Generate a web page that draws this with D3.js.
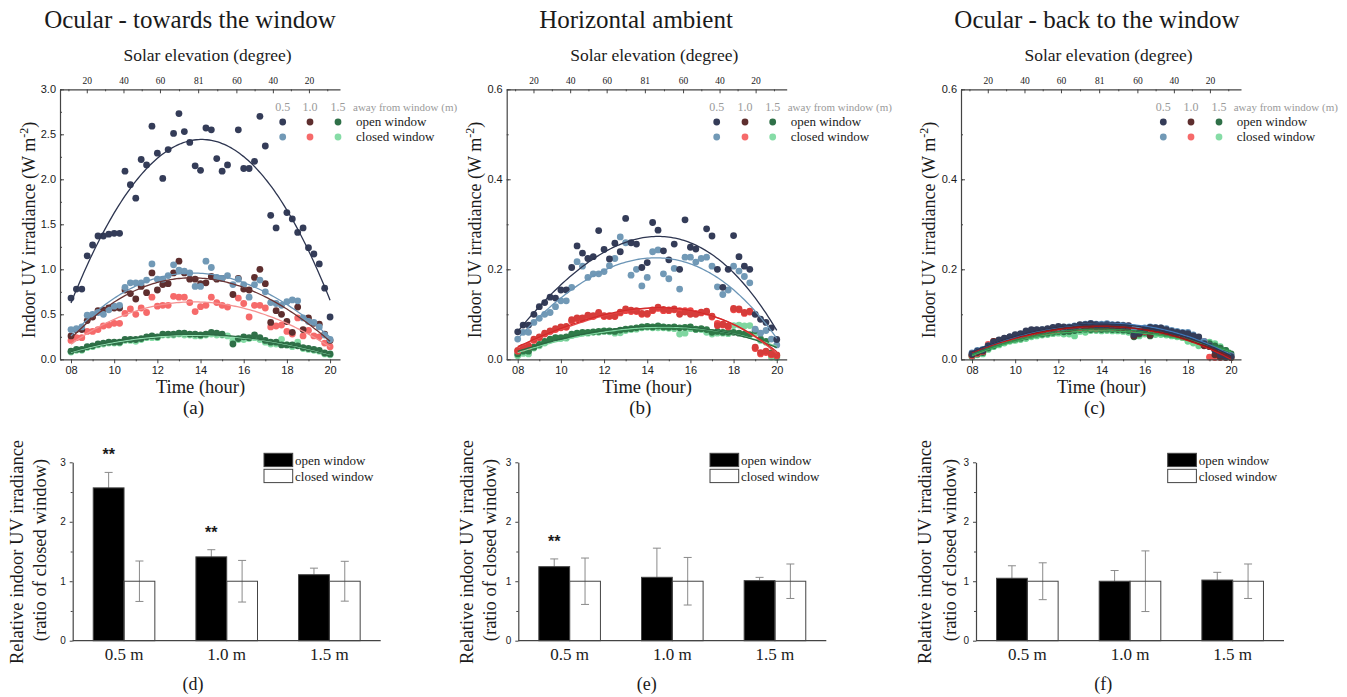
<!DOCTYPE html>
<html>
<head>
<meta charset="utf-8">
<script src="https://cdn.jsdelivr.net/npm/d3@7"></script>
<style>
  body { margin: 0; background: #fff; }
  text { font-family: "Liberation Serif", "Times New Roman", serif; fill: #1a1a1a; }
  .sans text, text.sans { font-family: "Liberation Sans", Arial, sans-serif; }
</style>
</head>
<body>
<svg id="chart" width="1347" height="697"></svg>
<script>
// sampling times (hour of day), every 15 min
var hours = [8,8.25,8.5,8.75,9,9.25,9.5,9.75,10,10.25,10.5,10.75,11,11.25,11.5,11.75,12,12.25,12.5,12.75,
  13,13.25,13.5,13.75,14,14.25,14.5,14.75,15,15.25,15.5,15.75,16,16.25,16.5,16.75,17,17.25,17.5,17.75,
  18,18.25,18.5,18.75,19,19.25,19.5,19.75,20];
var distances = ['0.5', '1.0', '1.5'];
var solarTickHours = [8.73, 10.43, 12.12, 13.89, 15.66, 17.35, 19.02];
var solarTickLabels = ['20', '40', '60', '81', '60', '40', '20'];

// (a) ocular - towards the window
var aOpen05 = [0.68,0.78,0.78,1.15,1.27,1.37,1.37,1.39,1.40,1.40,2.09,1.94,
  1.79,2.22,2.16,2.59,2.29,2.01,2.33,2.51,2.73,2.53,2.41,2.15,
  2.10,2.57,2.55,2.23,2.09,2.16,null,2.55,2.12,2.12,2.20,2.70,
  2.37,1.60,1.46,null,1.63,1.56,1.41,1.46,1.24,1.17,1.06,0.79,0.47];
var aClosed05 = [0.33,0.34,0.36,0.49,0.50,0.52,0.50,0.55,0.59,0.60,0.80,0.85,
  0.85,0.85,0.88,1.06,0.89,0.89,0.93,1.05,0.99,0.98,0.96,0.81,
  0.81,1.09,1.02,0.91,0.90,0.93,0.83,0.89,0.83,0.69,0.83,0.88,
  0.75,0.63,0.62,0.60,0.64,0.66,0.65,0.46,0.42,0.41,0.36,0.27,0.22];
var aOpen10 = [0.26,0.33,0.33,0.43,0.47,0.54,0.55,0.57,0.57,0.57,0.77,0.73,
  0.67,0.81,0.74,0.96,0.77,0.83,0.84,0.96,1.09,0.96,0.89,0.89,
  0.84,0.85,0.92,0.89,0.90,null,0.72,0.90,0.78,0.77,0.91,1.00,
  0.84,0.41,0.54,0.50,0.42,0.30,0.58,0.33,0.46,0.40,0.39,0.28,0.21];
var aClosed10 = [0.21,0.24,0.24,0.31,0.31,0.33,0.37,0.38,0.40,0.40,0.51,0.56,
  0.50,0.57,0.52,0.69,0.59,0.60,0.60,0.70,0.69,0.69,0.63,0.53,
  0.585,0.60,0.69,0.63,0.60,0.58,null,0.68,0.62,0.47,0.60,0.60,
  0.57,0.36,0.37,0.38,0.31,0.28,0.46,0.26,0.32,0.26,0.25,0.18,0.14];
var aOpen15 = [0.09,0.11,0.11,0.14,0.15,0.17,0.18,0.19,0.19,0.19,0.22,0.22,
  0.22,0.23,0.25,0.26,0.25,0.28,0.28,0.28,0.29,0.29,0.28,0.28,
  0.27,0.28,0.30,0.29,0.28,null,0.17,0.23,0.25,0.24,0.27,0.24,
  0.21,0.19,0.19,0.16,0.16,0.16,0.15,0.13,0.12,0.11,0.10,0.07,0.06];
var aClosed15 = [0.08,0.10,0.10,0.13,0.14,0.16,0.17,0.18,0.18,0.18,0.21,0.21,
  0.20,0.22,0.24,0.24,0.24,0.27,0.27,0.27,0.28,0.27,0.27,0.26,
  0.26,0.27,0.28,0.27,0.27,0.26,0.21,0.22,0.22,0.23,0.24,0.22,
  0.19,0.17,0.17,0.22,0.16,0.14,0.19,0.12,0.11,0.10,0.09,0.06,0.05];

// (b) horizontal ambient
var bOpen05 = [0.061,0.076,0.076,0.100,0.117,0.126,0.138,0.136,0.154,0.154,0.204,0.252,
  0.236,0.224,0.228,0.286,0.244,0.223,0.258,0.239,0.313,0.259,0.256,0.204,
  0.215,0.304,0.287,0.241,0.221,0.256,0.200,0.310,0.249,0.245,null,0.290,
  0.274,0.200,0.160,0.200,0.275,0.228,0.207,0.200,0.100,0.089,0.082,0.070,0.044];
var bClosed05 = [0.045,0.060,0.060,0.082,0.091,0.100,0.104,0.117,0.130,0.130,0.160,0.217,
  0.207,0.182,0.190,0.190,0.195,0.208,0.224,0.272,0.259,0.187,0.200,0.163,
  0.182,0.239,0.243,0.190,0.179,0.202,0.156,0.227,0.227,0.216,0.224,0.227,
  0.207,0.161,0.144,0.154,0.207,0.196,0.184,0.170,0.067,0.058,0.064,0.045,0.032];
var bOpen10 = [0.020,0.027,0.030,0.045,0.050,0.058,0.063,0.068,0.072,0.073,0.088,0.092,
  0.092,0.098,0.097,0.104,0.097,0.097,0.096,0.105,0.112,0.109,0.108,0.102,
  0.102,0.110,0.116,0.111,0.110,0.112,0.100,0.105,0.100,0.100,0.105,0.107,
  0.096,0.075,0.078,0.074,0.113,0.112,0.104,0.107,0.027,0.015,0.018,0.012,0.010];
var bClosed10 = [0.018,0.025,0.028,0.042,0.048,0.056,0.062,0.066,0.070,0.071,0.085,0.090,
  0.090,0.096,0.095,0.102,0.095,0.095,0.095,0.103,0.108,0.106,0.106,0.100,
  0.100,0.108,0.113,0.108,0.108,0.110,0.108,0.108,0.108,0.102,0.103,0.105,
  0.094,0.080,0.076,0.072,0.110,0.110,0.102,0.105,0.024,0.012,0.015,0.010,0.008];
var bOpen15 = [0.012,0.018,0.018,0.027,0.033,0.040,0.045,0.048,0.048,0.050,0.056,0.058,
  0.060,0.060,0.061,0.062,0.063,0.063,0.062,0.065,0.067,0.068,0.070,0.072,
  0.073,0.072,0.074,0.072,0.071,0.072,0.070,0.071,0.072,0.067,0.068,0.066,
  0.060,0.062,0.060,0.060,0.060,0.058,0.056,0.055,0.064,0.045,0.040,0.014,0.008];
var bClosed15 = [0.008,0.013,0.012,0.025,0.030,0.036,0.043,0.047,0.046,0.047,0.053,0.056,
  0.058,0.058,0.060,0.060,0.062,0.061,0.058,0.059,0.064,0.066,0.067,0.070,
  0.071,0.070,0.070,0.070,0.069,0.068,0.056,0.058,0.068,0.066,0.066,0.060,
  0.056,0.058,0.058,0.057,0.075,0.076,0.074,0.075,0.058,0.042,0.038,0.005,0.004];

// (c) ocular - back to the window
var cOpen05 = [0.012,0.018,0.020,0.030,0.038,0.043,0.047,0.050,0.055,0.057,0.063,0.066,
  0.066,0.066,0.068,0.071,0.073,0.072,0.071,0.073,0.077,0.077,0.079,0.077,
  0.076,0.077,0.076,0.076,0.075,0.074,0.055,0.060,0.067,0.071,0.070,0.070,
  0.066,0.062,0.060,0.058,0.057,0.052,0.050,0.035,0.030,0.020,0.010,0.006,0.006];
var cClosed05 = [0.014,0.020,0.022,0.030,0.036,0.040,0.045,0.050,0.053,0.055,0.060,0.064,
  0.065,0.066,0.067,0.070,0.071,0.070,0.072,0.074,0.076,0.078,0.080,0.078,
  0.078,0.079,0.077,0.077,0.076,0.075,0.070,0.067,0.070,0.072,0.071,0.070,
  0.068,0.064,0.062,0.060,0.060,0.054,0.048,0.040,0.030,0.022,0.015,0.010,0.008];
var cOpen10 = [0.010,0.015,0.018,0.030,0.040,0.042,0.046,0.050,0.052,0.054,0.058,0.060,
  0.062,0.063,0.064,0.066,0.068,0.067,0.067,0.070,0.072,0.072,0.073,0.072,
  0.072,0.071,0.072,0.070,0.070,0.070,0.052,0.058,0.063,0.054,0.067,0.066,
  0.062,0.058,0.057,0.055,0.052,0.050,0.048,0.030,0.028,0.010,0.005,0.004,0.004];
var cClosed10 = [0.008,0.013,0.017,0.033,0.040,0.040,0.043,0.046,0.050,0.052,0.054,0.058,
  0.060,0.061,0.062,0.064,0.066,0.066,0.066,0.069,0.070,0.071,0.070,0.069,
  0.070,0.070,0.071,0.070,0.069,0.075,0.065,0.060,0.062,0.062,0.063,0.061,
  0.060,0.056,0.055,0.050,0.048,0.046,0.045,0.040,0.005,0.004,0.004,0.005,0.004];
var cOpen15 = [0.008,0.012,0.015,0.025,0.030,0.035,0.040,0.043,0.045,0.047,0.050,0.054,
  0.056,0.056,0.058,0.060,0.062,0.061,0.062,0.064,0.066,0.067,0.066,0.067,
  0.066,0.067,0.066,0.066,0.065,0.064,0.050,0.056,0.060,0.052,0.062,0.060,
  0.057,0.055,0.054,0.052,0.050,0.044,0.040,0.038,0.035,0.030,0.025,0.020,0.012];
var cClosed15 = [0.005,0.010,0.012,0.022,0.028,0.032,0.036,0.040,0.042,0.044,0.046,0.050,
  0.052,0.054,0.055,0.057,0.058,0.056,0.056,0.052,0.062,0.060,0.064,0.064,
  0.063,0.064,0.063,0.063,0.062,0.060,0.058,0.052,0.056,0.056,0.055,0.055,
  0.054,0.052,0.050,0.048,0.040,0.036,0.030,0.035,0.038,0.035,0.028,0.020,0.004];

// relative irradiance bars (open window vs closed window = 1)
var barGroups = ['0.5 m', '1.0 m', '1.5 m'];
var dOpen = [2.57, 1.41, 1.11], dOpenErr = [0.26, 0.12, 0.11];
var dClosed = [1, 1, 1], dClosedErr = [0.34, 0.35, 0.335];
var dStars = ['**', '**', ''];
var eOpen = [1.245, 1.066, 1.01], eOpenErr = [0.13, 0.49, 0.055];
var eClosed = [1, 1, 1], eClosedErr = [0.39, 0.40, 0.29];
var eStars = ['**', '', ''];
var fOpen = [1.05, 1.0, 1.02], fOpenErr = [0.21, 0.18, 0.13];
var fClosed = [1, 1, 1], fClosedErr = [0.31, 0.51, 0.29];
var fStars = ['', '', ''];

var svg = d3.select("#chart");

var legendDots = ['#343c58', '#7199b6', '#5e2e2e', '#f66a6a', '#2f7048', '#86dca6'];

var scatterPanels = [
  { left: 60, title: "Ocular - towards the window", titleX: 190, yMax: 3.0, yMajor: 0.5, yMinor: 0.25,
    series: [aOpen05, aClosed05, aOpen10, aClosed10, aOpen15, aClosed15],
    dots: legendDots,
    lines: ['#2d3550', '#6b95b6', '#6a3434', '#f59090', '#2a6a42', '#92ddb0'],
    legendX: [282.7, 310, 338], legendText: 356, yLabelX: 29, letter: "(a)" },
  { left: 506.7, title: "Horizontal ambient", titleX: 636, yMax: 0.6, yMajor: 0.2, yMinor: 0.1,
    series: [bOpen05, bClosed05, bOpen10, bClosed10, bOpen15, bClosed15],
    dots: ['#343c58', '#7199b6', '#d63c3a', '#ee4646', '#2f7a48', '#7fd6a0'],
    lines: ['#2d3550', '#6b95b6', '#d32a2a', '#e64848', '#2a6a42', '#7fd6a0'],
    legendX: [716.7, 745, 772.7], legendText: 790.7, yLabelX: 475, letter: "(b)" },
  { left: 961, title: "Ocular - back to the window", titleX: 1097, yMax: 0.6, yMajor: 0.2, yMinor: 0.1,
    series: [cOpen05, cClosed05, cOpen10, cClosed10, cOpen15, cClosed15],
    dots: ['#343c58', '#5f8fb8', '#5e2e2e', '#f05050', '#2f7048', '#70d494'],
    lines: ['#2d3550', '#3f78b8', '#8a1a1a', '#d01a1a', '#2f8a4c', '#3fae5f'],
    legendX: [1163.3, 1191, 1219], legendText: 1236.7, yLabelX: 929, letter: "(c)" }
];

var plotTop = 89.3, plotH = 270, plotW = 280;

// least squares polynomial fit (in t - 14)
function polyFit(xs, ys, deg) {
  var n = deg + 1, M = [];
  for (var i = 0; i < n; i++) M.push(new Array(n + 1).fill(0));
  xs.forEach(function(x, k) {
    var y = ys[k];
    if (y == null) return;
    var u = x - 14;
    for (var i = 0; i < n; i++) {
      for (var j = 0; j < n; j++) M[i][j] += Math.pow(u, i + j);
      M[i][n] += Math.pow(u, i) * y;
    }
  });
  for (var c = 0; c < n; c++) {
    var p = c;
    for (var r = c + 1; r < n; r++) if (Math.abs(M[r][c]) > Math.abs(M[p][c])) p = r;
    var tmp = M[c]; M[c] = M[p]; M[p] = tmp;
    for (var r2 = 0; r2 < n; r2++) {
      if (r2 === c) continue;
      var f = M[r2][c] / M[c][c];
      for (var k = c; k <= n; k++) M[r2][k] -= f * M[c][k];
    }
  }
  var coef = M.map(function(row, i) { return row[n] / row[i]; });
  return function(t) {
    var u = t - 14, s = 0;
    for (var i = 0; i < n; i++) s += coef[i] * Math.pow(u, i);
    return s;
  };
}

scatterPanels.forEach(function(p) {
  var x = d3.scaleLinear().domain([7.49, 20.46]).range([p.left, p.left + plotW]);
  var y = d3.scaleLinear().domain([0, p.yMax]).range([plotTop + plotH, plotTop]);

  // title
  svg.append("text").attr("x", p.titleX).attr("y", 28)
    .attr("text-anchor", "middle").style("font-size", "25px").text(p.title);
  svg.append("text").attr("x", (x(8) + x(20)) / 2 + 7).attr("y", 61)
    .attr("text-anchor", "middle").style("font-size", "17.5px").text("Solar elevation (degree)");

  // dots, drawn from the 1.5 m closed series up to the 0.5 m open series
  var order = [5, 4, 3, 2, 1, 0];
  order.forEach(function(si) {
    var pts = hours.map(function(h, i) { return { t: h, v: p.series[si][i] }; })
      .filter(function(d) { return d.v != null; });
    svg.append("g").selectAll("circle").data(pts).enter().append("circle")
      .attr("cx", function(d) { return x(d.t); })
      .attr("cy", function(d) { return y(d.v); })
      .attr("r", 3.4)
      .attr("fill", p.dots[si]);
  });

  // fitted curves
  var samples = d3.range(8, 20.001, 0.1);
  order.forEach(function(si) {
    var fit = polyFit(hours, p.series[si], 3);
    var line = d3.line()
      .x(function(t) { return x(t); })
      .y(function(t) { return y(fit(t)); });
    svg.append("path").datum(samples)
      .attr("d", line).attr("fill", "none")
      .attr("stroke", p.lines[si]).attr("stroke-width", 1.3);
  });

  // axes
  var yAxis = svg.append("g").attr("class", "sans")
    .attr("transform", "translate(" + p.left + ",0)")
    .call(d3.axisLeft(y).tickValues(d3.range(0, p.yMax + 1e-9, p.yMajor))
      .tickFormat(d3.format(".1f")).tickSizeInner(-4).tickSizeOuter(0).tickPadding(4));
  svg.append("g").attr("transform", "translate(" + p.left + ",0)")
    .call(d3.axisLeft(y).tickValues(d3.range(0, p.yMax + 1e-9, p.yMinor))
      .tickFormat("").tickSizeInner(-2).tickSizeOuter(0))
    .select(".domain").remove();

  var xAxis = svg.append("g").attr("class", "sans")
    .attr("transform", "translate(0," + (plotTop + plotH) + ")")
    .call(d3.axisBottom(x).tickValues(d3.range(8, 20.1, 2))
      .tickFormat(function(d) { return d < 10 ? "0" + d : d; })
      .tickSizeInner(4).tickSizeOuter(0).tickPadding(3));
  svg.append("g").attr("transform", "translate(0," + (plotTop + plotH) + ")")
    .call(d3.axisBottom(x).tickValues(d3.range(9, 20, 2)).tickFormat("").tickSizeInner(2).tickSizeOuter(0))
    .select(".domain").remove();

  var topAxis = svg.append("g").attr("transform", "translate(0," + plotTop + ")")
    .call(d3.axisTop(x).tickValues(solarTickHours)
      .tickFormat(function(d, i) { return solarTickLabels[i]; })
      .tickSizeInner(-4).tickSizeOuter(0).tickPadding(5));
  topAxis.selectAll(".tick text").style("font-size", "9.5px")
    .style("font-family", "'Liberation Serif', serif");
  var minorTop = [];
  for (var i = 0; i < solarTickHours.length - 1; i++) minorTop.push((solarTickHours[i] + solarTickHours[i + 1]) / 2);
  minorTop.push(solarTickHours[0] - 0.85, solarTickHours[6] + 0.85);
  svg.append("g").attr("transform", "translate(0," + plotTop + ")")
    .call(d3.axisTop(x).tickValues(minorTop).tickFormat("").tickSizeInner(-2).tickSizeOuter(0))
    .select(".domain").remove();

  svg.selectAll(".domain").attr("stroke", "#333").attr("stroke-width", 1.2);
  svg.selectAll(".tick line").attr("stroke", "#333");
  [yAxis, xAxis].forEach(function(a) {
    a.selectAll(".tick text").style("font-size", "11px").attr("fill", "#222");
  });

  // axis titles
  var yl = svg.append("text")
    .attr("transform", "translate(" + p.yLabelX + ",230) rotate(-90)")
    .attr("text-anchor", "middle").attr("dy", "0.35em").style("font-size", "18px");
  yl.append("tspan").text("Indoor UV irradiance (W m");
  yl.append("tspan").attr("baseline-shift", "super").style("font-size", "12px").text("-2");
  yl.append("tspan").text(")");

  svg.append("text").attr("x", (x(8) + x(20)) / 2).attr("y", 393)
    .attr("text-anchor", "middle").style("font-size", "18.5px").text("Time (hour)");
  svg.append("text").attr("x", (x(8) + x(20)) / 2 - 7).attr("y", 414)
    .attr("text-anchor", "middle").style("font-size", "19px").text(p.letter);

  // legend
  var lg = svg.append("g");
  distances.forEach(function(dname, i) {
    lg.append("text").attr("x", p.legendX[i]).attr("y", 111).style("font-size", "12px")
      .attr("text-anchor", "middle").style("fill", "#9a9a9a").text(dname);
    lg.append("circle").attr("cx", p.legendX[i]).attr("cy", 122).attr("r", 3.4).attr("fill", legendDots[i * 2]);
    lg.append("circle").attr("cx", p.legendX[i]).attr("cy", 137).attr("r", 3.4).attr("fill", legendDots[i * 2 + 1]);
  });
  lg.append("text").attr("x", p.legendText - 3).attr("y", 111).style("font-size", "11px")
    .style("fill", "#9a9a9a").text("away from window (m)");
  lg.append("text").attr("x", p.legendText).attr("y", 126).style("font-size", "13px").text("open window");
  lg.append("text").attr("x", p.legendText).attr("y", 141).style("font-size", "13px").text("closed window");
});

// ---- bar panels ----
var barPanels = [
  { axisX: 72.7, open: dOpen, openErr: dOpenErr, closed: dClosed, closedErr: dClosedErr, stars: dStars,
    legendX: 264, labelX: [16.7, 40], letterX: 193, letter: "(d)" },
  { axisX: 518.3, open: eOpen, openErr: eOpenErr, closed: eClosed, closedErr: eClosedErr, stars: eStars,
    legendX: 710, labelX: [466.7, 490], letterX: 646.7, letter: "(e)" },
  { axisX: 976, open: fOpen, openErr: fOpenErr, closed: fClosed, closedErr: fClosedErr, stars: fStars,
    legendX: 1167.7, labelX: [925, 949.3], letterX: 1103.3, letter: "(f)" }
];
var barBottom = 640.7, barTop = 462.3, barW = 308;

barPanels.forEach(function(p) {
  var x0 = d3.scaleBand().domain(barGroups).range([p.axisX, p.axisX + barW]).paddingInner(0.4).paddingOuter(0.2);
  var x1 = d3.scaleBand().domain(["open", "closed"]).range([0, x0.bandwidth()]);
  var y = d3.scaleLinear().domain([0, 3]).range([barBottom, barTop]);

  var rows = barGroups.map(function(g, i) {
    return [
      { g: g, k: "open", v: p.open[i], e: p.openErr[i], star: p.stars[i] },
      { g: g, k: "closed", v: p.closed[i], e: p.closedErr[i], star: "" }
    ];
  });
  var flat = [].concat.apply([], rows);

  // error bars
  var eb = svg.append("g").attr("stroke", "#8a8a8a").attr("stroke-width", 1);
  flat.forEach(function(d) {
    var cx = x0(d.g) + x1(d.k) + x1.bandwidth() / 2;
    eb.append("line").attr("x1", cx).attr("x2", cx).attr("y1", y(d.v - d.e)).attr("y2", y(d.v + d.e));
    eb.append("line").attr("x1", cx - 4).attr("x2", cx + 4).attr("y1", y(d.v + d.e)).attr("y2", y(d.v + d.e));
    eb.append("line").attr("x1", cx - 4).attr("x2", cx + 4).attr("y1", y(d.v - d.e)).attr("y2", y(d.v - d.e));
  });

  svg.append("g").selectAll("rect").data(flat).enter().append("rect")
    .attr("x", function(d) { return x0(d.g) + x1(d.k); })
    .attr("y", function(d) { return y(d.v); })
    .attr("width", x1.bandwidth())
    .attr("height", function(d) { return barBottom - y(d.v); })
    .attr("fill", function(d) { return d.k === "open" ? "#000" : "none"; })
    .attr("stroke", "#444").attr("stroke-width", 1);

  // significance marks
  svg.append("g").selectAll("text").data(flat.filter(function(d) { return d.star; })).enter().append("text")
    .attr("class", "sans")
    .attr("x", function(d) { return x0(d.g) + x1(d.k) + x1.bandwidth() / 2; })
    .attr("y", function(d) { return y(d.v + d.e) - 12; })
    .attr("text-anchor", "middle").style("font-size", "16px").style("font-weight", "bold")
    .text(function(d) { return d.star; });

  // axes
  var ya = svg.append("g").attr("class", "sans").attr("transform", "translate(" + p.axisX + ",0)")
    .call(d3.axisLeft(y).tickValues([0, 1, 2, 3]).tickFormat(d3.format("d")).tickSizeInner(3).tickSizeOuter(0).tickPadding(4));
  ya.selectAll(".tick text").style("font-size", "10px");
  svg.append("g").attr("transform", "translate(" + p.axisX + ",0)")
    .call(d3.axisLeft(y).tickValues([0.5, 1.5, 2.5]).tickFormat("").tickSizeInner(2).tickSizeOuter(0))
    .select(".domain").remove();
  var xa = svg.append("g").attr("transform", "translate(0," + barBottom + ")")
    .call(d3.axisBottom(x0).tickSize(0).tickPadding(6));
  xa.selectAll(".tick text").style("font-size", "17px").attr("dy", "0.8em");
  xa.select(".domain").attr("d", "M" + p.axisX + ",0H" + (p.axisX + barW));
  svg.selectAll(".domain").attr("stroke", "#444").attr("stroke-width", 1.2);
  svg.selectAll(".tick line").attr("stroke", "#444");

  // y title (two lines)
  svg.append("text")
    .attr("transform", "translate(" + p.labelX[0] + ",552) rotate(-90)")
    .attr("text-anchor", "middle").attr("dy", "0.35em").style("font-size", "18.5px")
    .text("Relative indoor UV irradiance");
  svg.append("text")
    .attr("transform", "translate(" + p.labelX[1] + ",550) rotate(-90)")
    .attr("text-anchor", "middle").attr("dy", "0.35em").style("font-size", "18.5px")
    .text("(ratio of closed window)");

  // legend
  svg.append("rect").attr("x", p.legendX).attr("y", 453.3).attr("width", 28.7).attr("height", 13.3)
    .attr("fill", "#000").attr("stroke", "#444");
  svg.append("rect").attr("x", p.legendX).attr("y", 469.3).attr("width", 28.7).attr("height", 13.3)
    .attr("fill", "#fff").attr("stroke", "#444");
  svg.append("text").attr("x", p.legendX + 31).attr("y", 464.5).style("font-size", "13px").text("open window");
  svg.append("text").attr("x", p.legendX + 31).attr("y", 480.5).style("font-size", "13px").text("closed window");

  svg.append("text").attr("x", p.letterX).attr("y", 690).attr("text-anchor", "middle")
    .style("font-size", "18px").text(p.letter);
});
</script>
</body>
</html>
